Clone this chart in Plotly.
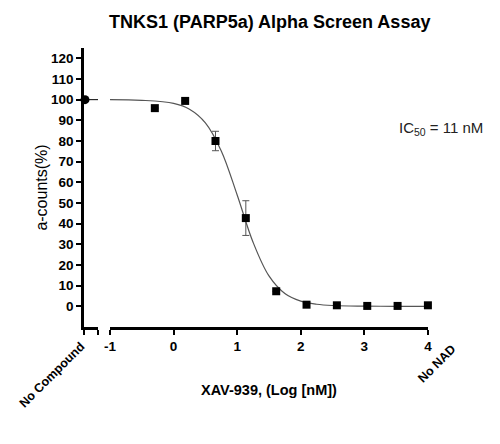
import plotly.graph_objects as go

# ---- data ----
dose_log = [-0.295, 0.182, 0.659, 1.136, 1.614, 2.091, 2.568, 3.046, 3.523, 4.0]
counts = [95.9, 99.4, 80.0, 42.7, 7.3, 0.8, 0.5, 0.2, 0.2, 0.5]
counts_err = [0, 0, 4.7, 8.4, 0, 0, 0, 0, 0, 0]

curve_x = [-1.0, -0.5, 0.0, 0.25, 0.5, 0.75, 1.0, 1.25, 1.5, 1.75, 2.0, 2.25, 2.5, 3.0, 3.5, 4.0]
curve_y = [100.0, 99.7, 98.2, 95.4, 88.8, 75.2, 53.9, 31.0, 14.7, 6.2, 2.5, 1.0, 0.4, 0.1, 0.0, 0.0]

no_compound_x = [0.07]
no_compound_y = [100.0]
no_compound_line_x = [0.0, 1.0]
no_compound_line_y = [100.0, 100.0]

y_ticks = [0, 10, 20, 30, 40, 50, 60, 70, 80, 90, 100, 110, 120]
x_ticks = [-1, 0, 1, 2, 3, 4]

FONT = "Arial, Liberation Sans, sans-serif"

# page body has an 8px margin, so the figure is shifted by that amount
OFF = 8
W, H = 500, 444
L, T, R, B = 84 - OFF, 48 - OFF, 47 + OFF, 117 + OFF
PW, PH = W - L - R, H - T - B  # 369 x 279


def px_x(sx):
    return (sx - OFF - L) / PW


def px_y(sy):
    return (H - B - (sy - OFF)) / PH


fig = go.Figure()

# fitted curve
fig.add_trace(go.Scatter(
    x=curve_x, y=curve_y, xaxis="x2", yaxis="y", mode="lines",
    line=dict(color="#555555", width=1.2, shape="spline"),
    hoverinfo="skip", showlegend=False, cliponaxis=False))

# data points
fig.add_trace(go.Scatter(
    x=dose_log, y=counts, xaxis="x2", yaxis="y", mode="markers",
    marker=dict(symbol="square", size=8, color="black"),
    error_y=dict(type="data", array=counts_err, visible=True,
                 color="#555555", thickness=1, width=3.5),
    showlegend=False, cliponaxis=False))

# No compound control
fig.add_trace(go.Scatter(
    x=no_compound_line_x, y=no_compound_line_y, xaxis="x", yaxis="y",
    mode="lines", line=dict(color="black", width=1),
    showlegend=False, cliponaxis=False))
fig.add_trace(go.Scatter(
    x=no_compound_x, y=no_compound_y, xaxis="x", yaxis="y",
    mode="markers", marker=dict(symbol="circle", size=9, color="black"),
    showlegend=False, cliponaxis=False))

axis_common = dict(showline=True, linecolor="black", linewidth=2.5,
                   ticks="outside", ticklen=5, tickwidth=2, tickcolor="black",
                   showgrid=False, zeroline=False,
                   tickfont=dict(family=FONT, size=13.5, color="black", weight="bold"))

fig.update_layout(
    width=W, height=H,
    margin=dict(l=L, r=R, t=T, b=B),
    paper_bgcolor="white", plot_bgcolor="white",
    showlegend=False,
    title=dict(text="TNKS1 (PARP5a) Alpha Screen Assay",
               font=dict(family=FONT, size=18, color="black", weight="bold"),
               x=(269.7 - OFF) / W, xanchor="center", xref="container",
               y=1 - (22 - OFF) / H, yanchor="middle", yref="container"),
    xaxis=dict(domain=[0, 0.038], range=[0, 1], tickvals=[0, 1], showticklabels=False,
               anchor="y", **axis_common),
    xaxis2=dict(domain=[0.0705, 0.932], range=[-1, 4], tickvals=x_ticks,
                ticktext=[str(t) for t in x_ticks], anchor="y",
                title=dict(text="XAV-939, (Log [nM])", standoff=32,
                           font=dict(family=FONT, size=14.5, color="black", weight="bold")),
                **axis_common),
    xaxis3=dict(domain=[0.970, 1.0], range=[0, 1], tickvals=[0, 1], showticklabels=False,
                anchor="y", **axis_common),
    yaxis=dict(domain=[0, 1], range=[-10, 125], tickvals=y_ticks,
               ticktext=[str(t) for t in y_ticks], anchor="x",
               title=dict(text="a-counts(%)", standoff=0,
                          font=dict(family=FONT, size=16, color="black")),
               **axis_common),
)

fig.add_annotation(text="IC<sub>50</sub> = 11 nM", xref="paper", yref="paper",
                   x=px_x(485), y=px_y(129), xanchor="right", yanchor="middle", showarrow=False,
                   font=dict(family=FONT, size=15, color="#222222"))
fig.add_annotation(text="No Compound", xref="paper", yref="paper",
                   x=px_x(52), y=px_y(375), xanchor="center", yanchor="middle",
                   textangle=-45, showarrow=False,
                   font=dict(family=FONT, size=12.5, color="black", weight="bold"))
fig.add_annotation(text="No NAD", xref="paper", yref="paper",
                   x=px_x(436.5), y=px_y(363.5), xanchor="center", yanchor="middle",
                   textangle=-45, showarrow=False,
                   font=dict(family=FONT, size=12.5, color="black", weight="bold"))

fig.write_html("out.html")
